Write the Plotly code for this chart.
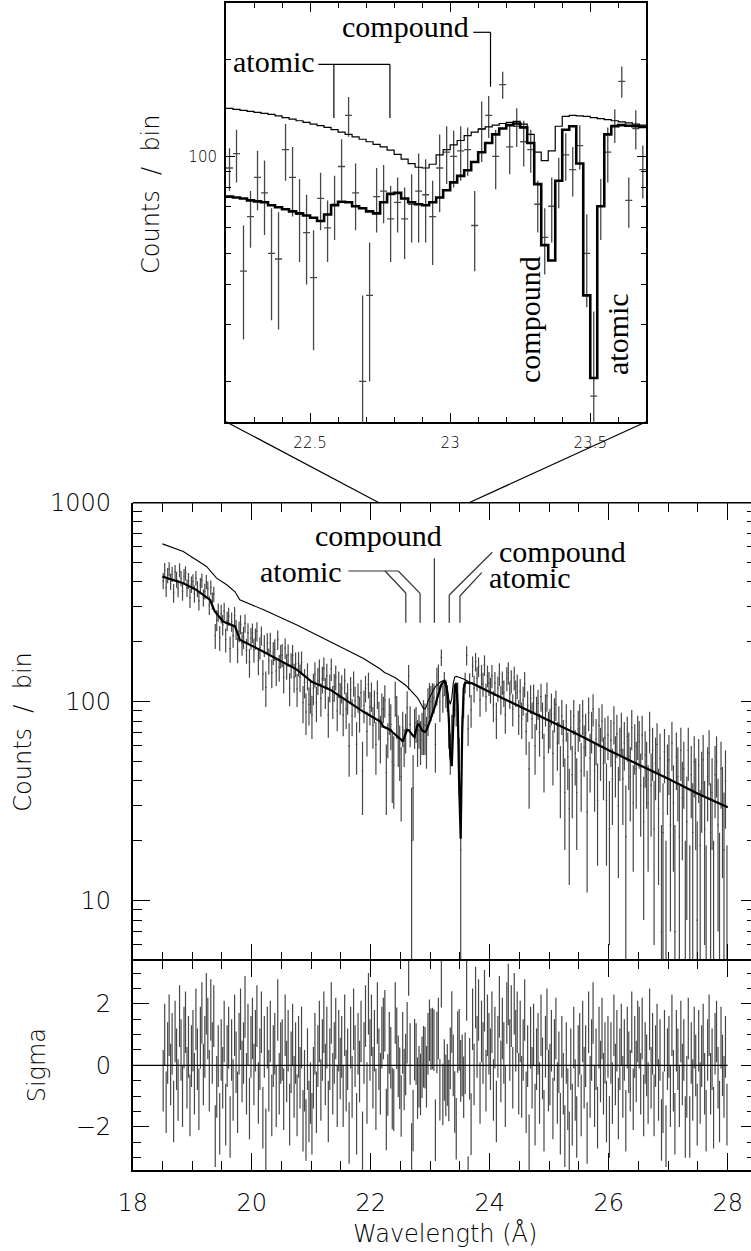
import math
import plotly.graph_objects as go

W, H = 751, 1251

# ---------------------------------------------------------------- data
BIN_START = 18.5      # first bin edge (Angstrom)
BIN_WIDTH = 0.025     # bin width (Angstrom)

# observed counts per bin, one row per 0.5 A
counts = [
    405, 460, 374, 432, 464, 402, 438, 352, 449, 412, 372, 459, 417, 359, 427, 443, 373, 406, 333, 389,
    402, 349, 419, 369, 321, 384, 407, 334, 359, 400, 369, 306, 375, 322, 347, 215, 257, 282, 210, 277,
    244, 285, 205, 255, 269, 185, 253, 215, 271, 231, 183, 226, 245, 197, 211, 248, 181, 222, 158, 209,
    222, 182, 208, 226, 161, 187, 215, 138, 192, 118, 197, 161, 198, 140, 176, 183, 143, 205, 149, 170,
    172, 133, 186, 151, 172, 117, 153, 171, 133, 155, 116, 156, 133, 158, 99, 125, 89, 135, 97, 108,
    86, 117, 138, 99, 128, 143, 104, 130, 147, 112, 135, 86, 118, 146, 101, 119, 133, 90, 123, 105,
    117, 86, 128, 92, 105, 60, 115, 85, 124, 101, 61, 106, 88, 111, 45, 96, 117, 71, 122, 94,
    107, 76, 96, 61, 110, 82, 67, 92,
    92, 102, 44, 65, 86, 77, 50, 48, 105, 86, 66, 58, 42, 74, 60, 71, 93, 134, 77, 20,
    37, 75, 78, 64, 72, 64, 71, 78, 76, 65, 92, 103, 100, 104, 105, 61, 122, 134, 100, 167,
    107, 124, 111, 105, 71, 56, 70, 84, 101, 91, 108, 50, 18, 70, 103, 125, 171, 73, 122, 91,
    151, 117, 159, 131, 150, 102, 136, 123, 153, 106, 135, 124,
    115, 135, 96, 124, 82, 117, 138, 103, 125, 111, 86, 131, 140, 109, 127, 92, 132, 111, 120, 85,
    113, 82, 102, 123, 71, 96, 46, 104, 82, 105, 60, 89, 98, 70, 106, 82, 52, 92, 107, 72,
    75, 93, 55, 87, 97, 62, 78, 43, 85, 64, 35, 80, 53, 29, 74, 43, 85, 55, 35, 73,
    80, 45, 85, 59, 70, 28, 88, 52, 72, 92, 45, 65, 32, 76, 57, 80, 49, 66, 32, 68,
    23, 64, 41, 78, 50, 69, 30, 57, 71, 41, 62, 21, 67, 53, 42, 74, 31, 60, 46, 68,
    63, 38, 68, 25, 54, 46, 31, 72, 38, 57, 23, 49, 61, 29, 52, 7, 22, 56, 3, 44,
    51, 24, 62, 31, 7, 53, 42, 21, 57, 33, 46, 3, 25, 57, 2, 43, 22, 50, 35, 8,
    48, 19, 39, 51, 23, 2, 42, 55, 22, 35, 3, 43, 50, 24, 5, 46, 30, 18, 40, 2,
]

# 1-sigma uncertainty on the counts
count_err = [
    38, 38, 38, 38, 38, 38, 38, 38, 38, 38, 37, 37, 37, 37, 37, 37, 37, 37, 37, 37,
    35, 35, 35, 34, 34, 34, 34, 33, 33, 33, 33, 33, 32, 32, 31, 31, 31, 30, 30, 30,
    29, 29, 28, 28, 28, 28, 28, 28, 28, 27, 27, 27, 27, 27, 27, 26, 26, 26, 26, 26,
    25, 25, 25, 25, 25, 24, 24, 24, 24, 24, 24, 24, 24, 23, 23, 23, 23, 23, 23, 23,
    23, 23, 22, 22, 22, 22, 22, 22, 22, 22, 22, 22, 21, 21, 21, 21, 21, 21, 21, 21,
    21, 21, 20, 20, 20, 20, 20, 20, 20, 20, 20, 20, 19, 19, 19, 19, 19, 19, 19, 19,
    19, 19, 19, 19, 19, 18, 18, 18, 18, 18, 18, 18, 18, 18, 18, 18, 18, 18, 18, 18,
    18, 18, 18, 18, 18, 18, 18, 18,
    14, 19, 17, 13, 18, 20, 19, 19, 21, 21, 19, 18, 17, 15, 13, 16, 20, 19, 18, 17,
    17, 17, 16, 17, 14, 16, 17, 24, 22, 19, 25, 21, 20, 20, 18, 17, 26, 20, 21, 16,
    19, 17, 18, 16, 13, 13, 16, 15, 17, 16, 17, 16, 15, 15, 20, 15, 19, 13, 17, 17,
    18, 18, 17, 18, 17, 18, 17, 17, 18, 17, 17, 17,
    17, 18, 17, 17, 17, 17, 18, 17, 17, 17, 17, 18, 18, 17, 17, 17, 18, 17, 17, 17,
    17, 17, 17, 18, 17, 17, 17, 17, 17, 17, 17, 17, 17, 17, 17, 17, 17, 17, 18, 17,
    17, 17, 17, 17, 17, 17, 17, 17, 17, 17, 17, 17, 17, 17, 17, 17, 17, 17, 17, 17,
    17, 17, 17, 17, 17, 17, 17, 17, 17, 17, 17, 17, 17, 17, 17, 17, 17, 17, 17, 17,
    17, 17, 17, 17, 17, 17, 17, 17, 17, 17, 17, 17, 17, 17, 17, 17, 17, 17, 17, 17,
    17, 17, 17, 17, 17, 17, 17, 17, 17, 17, 17, 17, 17, 17, 17, 17, 17, 17, 17, 17,
    17, 17, 17, 17, 17, 17, 17, 17, 17, 17, 17, 17, 17, 17, 17, 17, 17, 17, 17, 17,
    17, 17, 17, 17, 17, 17, 17, 17, 17, 17, 17, 17, 17, 17, 17, 17, 17, 17, 17, 17,
]

# residuals (data - model) / error
sigma = [
    -0.5, 1.0, -1.2, 0.4, 1.3, -0.3, 0.7, -1.5, 1.1, 0.2, -0.8, 1.6, 0.5, -1.0, 0.9, 1.4, -0.4, 0.6, -1.3, 0.3,
    0.8, -0.6, 1.5, 0.2, -1.1, 0.9, 1.7, -0.3, 0.6, 2.0, 1.2, -0.5, 1.8, 0.4, 1.6, -2.3, -0.7, 0.3, -1.9, 0.5,
    -0.4, 1.1, -1.6, 0.3, 0.9, -2.0, 0.5, -0.8, 1.3, 0.1, -1.2, 0.7, 1.5, -0.2, 0.4, 1.9, -0.6, 1.0, -1.4, 0.6,
    1.2, -0.3, 0.8, 1.6, -0.9, 0.2, 1.4, -1.7, 0.6, -2.4, 0.9, -0.5, 1.1, -1.3, 0.3, 0.7, -1.0, 1.8, -0.6, 0.4,
    0.5, -1.1, 1.3, -0.2, 0.8, -1.6, 0.1, 1.0, -0.7, 0.4, -1.3, 0.6, -0.4, 0.9, -1.8, -0.5, -2.1, 0.2, -1.5, -0.9,
    -1.9, -0.4, 0.7, -1.2, 0.3, 1.1, -0.8, 0.5, 1.4, -0.3, 0.9, -1.5, 0.2, 1.7, -0.6, 0.4, 1.2, -1.0, 0.8, -0.1,
    0.6, -1.0, 1.3, -0.5, 0.2, -2.2, 0.9, -0.7, 1.5, 0.3, -1.9, 0.7, -0.2, 1.1, -2.5, 0.4, 1.6, -0.9, 2.0, 0.5,
    1.3, -0.4, 0.8, -1.1, 1.7, 0.2, -0.6, 0.9,
    1.2, 1.45, -1.76, -0.64, 0.73, 0.25, -1.08, -1.13, 1.7, 0.88, -0.03, -0.42, -1.32, 0.73, -0.46, 0.03, 1.06, 3.26, 0.37, -2.88,
    -1.79, 0.51, 0.37, -0.74, -0.37, -0.62, -0.06, 0.28, 0.25, -0.37, 0.7, 1.14, 0.85, 0.87, 0.82, -2.11, 0.74, 1.2, -0.79, 2.88,
    -0.95, -0.15, -0.65, -0.31, -0.82, 0.23, 1.41, 0.0, -1.19, -2.06, 0.76, 0.83, -0.18, 0.0, -0.71, 0.07, 2.45, -3.96, -0.11, -1.91,
    1.5, -0.3, 2.2, 0.6, 1.8, -0.9, 1.1, 0.4, 2.1, -0.5, 1.3, 0.7,
    0.2, 1.4, -0.8, 0.9, -1.5, 0.6, 1.9, -0.2, 1.2, 0.4, -1.0, 1.7, 2.3, 0.5, 1.6, -0.4, 2.0, 0.8, 1.4, -0.6,
    1.1, -0.7, 0.5, 1.8, -1.2, 0.3, -2.6, 0.9, -0.4, 1.0, -1.6, 0.2, 0.7, -0.9, 1.3, -0.1, -1.8, 0.6, 1.5, -0.5,
    -0.3, 0.8, -1.4, 0.5, 1.2, -0.9, 0.1, -1.9, 0.6, -0.6, -2.3, 0.4, -1.1, -2.5, 0.2, -1.6, 0.9, -0.8, -2.0, 0.3,
    0.7, -1.3, 1.1, -0.4, 0.3, -2.2, 1.4, -0.7, 0.5, 1.7, -1.0, 0.2, -1.7, 0.9, -0.2, 1.2, -0.6, 0.4, -1.5, 0.6,
    -2.0, 0.4, -0.9, 1.3, -0.3, 0.8, -1.4, 0.2, 1.0, -0.7, 0.5, -1.8, 0.9, 0.1, -0.5, 1.4, -1.1, 0.6, -0.2, 1.1,
    0.9, -0.6, 1.2, -1.3, 0.4, 0.0, -0.9, 1.5, -0.4, 0.7, -1.3, 0.3, 1.0, -0.8, 0.5, -2.1, -1.2, 0.8, -2.3, 0.2,
    0.6, -1.0, 1.3, -0.5, -1.9, 0.8, 0.2, -1.0, 1.1, -0.3, 0.5, -2.0, -0.7, 1.2, -2.0, 0.4, -0.8, 0.9, 0.0, -1.6,
    0.8, -0.9, 0.3, 1.0, -0.6, -1.8, 0.5, 1.3, -0.6, 0.2, -1.7, 0.7, 1.1, -0.4, -1.5, 0.9, 0.0, -0.7, 0.6, -1.6,
]

# models: best fit (with the edge structure) and the continuum without it
fit_left_wl = [18.5, 18.85, 19.07, 19.3, 19.38, 19.52, 19.72, 19.8, 20.19, 20.76, 21.01, 21.32, 21.88, 22.16]
fit_left = [425, 394, 365, 325, 284, 253, 239, 205, 179, 145, 126, 115, 89, 79.6]
cont_left_wl = [18.5, 18.85, 19.24, 19.41, 19.58, 19.72, 19.8, 20.2, 20.76, 21.32, 21.88, 22.16]
cont_left = [621, 568, 478, 418, 387, 357, 325, 290, 243, 201, 165, 146]

# per-bin model values across the edge, 22.2 - 23.7 A
EDGE_LO, EDGE_HI = 22.2, 23.7
edge_fit = [
    75, 74.5, 74, 73, 72.5, 72, 70.5, 69.5, 68.5, 67.5, 66.5, 65.5, 64.5, 63, 66, 70.5, 72.3, 72, 70, 69,
    67.5, 66.5, 72, 76.5, 77, 74, 72, 71, 70.5, 72, 74.5, 78.5, 83, 87, 90.5, 96, 103, 110, 117, 122,
    125, 126.5, 123, 110, 82, 53, 47.5, 84, 121, 124, 95, 37, 20.5, 70, 117, 124, 125, 124.5, 124, 123.5,
]
edge_cont = [
    141, 140, 139, 138, 137, 136, 135, 133.5, 132, 130.5, 129, 127.5, 126, 124.5, 123, 121, 119, 117, 115, 113,
    111, 109, 107, 104.5, 101.5, 98, 95, 92.5, 92, 94.5, 101, 105, 108.5, 112, 116, 119, 121.5, 123.5, 125, 126.5,
    127.5, 128.5, 126, 117, 103, 97, 104, 124, 133, 134, 133.5, 133, 132, 131, 130, 129, 128, 127, 126, 125,
]

right_wl = [23.7, 24.0, 24.5, 25.0, 25.5, 26.0, 26.5, 27.0, 27.5, 28.0]
right_model = [124, 112, 95, 80, 68, 57, 48.5, 41, 34.5, 29.5]

# line identifications (Angstrom)
main_atomic = [22.59, 22.83, 23.50]
main_compound = [23.07, 23.32]
inset_atomic = [22.585, 22.785]
inset_compound = [23.144]

# ---------------------------------------------------------------- geometry
MAIN_L, PX_PER_A = 132.7, 59.5
MAIN_T, MAIN_B, RES_B = 502.7, 960.7, 1170.0
INS_L, INS_R, INS_T, INS_B = 226.0, 646.3, 2.7, 421.7
X_MAX = 18 + (W - MAIN_L) / PX_PER_A


def xp(p):
    return p / W


def yp(p):
    return 1 - p / H


n = len(counts)
centers = [BIN_START + BIN_WIDTH * (i + 0.5) for i in range(n)]
i0 = round((EDGE_LO - BIN_START) / BIN_WIDTH)
edge_centers = centers[i0:i0 + len(edge_fit)]
edge_edges = [EDGE_LO + BIN_WIDTH * k for k in range(len(edge_fit) + 1)]


def error_bars(xs, vals, errs, floor, with_caps=True):
    bx, by = [], []
    for x, v, e in zip(xs, vals, errs):
        lo = v - e
        bx += [x, x, None]
        by += [lo if lo > floor else floor, v + e, None]
        if with_caps and v > floor:
            bx += [x - BIN_WIDTH / 2, x + BIN_WIDTH / 2, None]
            by += [v, v, None]
    return bx, by


GRAY = "#474747"
fig = go.Figure()

# main spectrum
mx, my = error_bars(centers, counts, count_err, 0.5)
fig.add_trace(go.Scatter(x=mx, y=my, mode="lines", line=dict(color=GRAY, width=1.2),
                         xaxis="x", yaxis="y", hoverinfo="skip"))
fig.add_trace(go.Scatter(x=cont_left_wl + edge_centers + right_wl,
                         y=cont_left + edge_cont + right_model, mode="lines",
                         line=dict(color="black", width=1.1), xaxis="x", yaxis="y"))
fig.add_trace(go.Scatter(x=fit_left_wl + edge_centers + right_wl,
                         y=fit_left + edge_fit + right_model, mode="lines",
                         line=dict(color="black", width=2.2), xaxis="x", yaxis="y"))

# residuals
rx, ry = [], []
for x, r in zip(centers, sigma):
    rx += [x, x, None]
    ry += [r - 1, r + 1, None]
fig.add_trace(go.Scatter(x=rx, y=ry, mode="lines", line=dict(color=GRAY, width=1.2),
                         xaxis="x2", yaxis="y2", hoverinfo="skip"))
fig.add_trace(go.Scatter(x=[18, BIN_START + n * BIN_WIDTH], y=[0, 0], mode="lines",
                         line=dict(color="black", width=1.3), xaxis="x2", yaxis="y2"))

# inset around the edge
ix, iy = error_bars(edge_centers, counts[i0:i0 + len(edge_fit)],
                    count_err[i0:i0 + len(edge_fit)], 0.5)
fig.add_trace(go.Scatter(x=ix, y=iy, mode="lines", line=dict(color=GRAY, width=1.3),
                         xaxis="x3", yaxis="y3", hoverinfo="skip"))
fig.add_trace(go.Scatter(x=edge_edges, y=edge_cont + edge_cont[-1:], mode="lines",
                         line=dict(color="black", width=1.2, shape="hv"), xaxis="x3", yaxis="y3"))
fig.add_trace(go.Scatter(x=edge_edges, y=edge_fit + edge_fit[-1:], mode="lines",
                         line=dict(color="black", width=2.6, shape="hv"), xaxis="x3", yaxis="y3"))

# empty traces so the right-hand tick axes are drawn
fig.add_trace(go.Scatter(x=[None], y=[None], xaxis="x", yaxis="y4", hoverinfo="skip"))
fig.add_trace(go.Scatter(x=[None], y=[None], xaxis="x2", yaxis="y5", hoverinfo="skip"))

TICKFONT = dict(family="DejaVu Sans", size=24, color="black", weight=300)
SMALLFONT = dict(family="DejaVu Sans", size=15, color="black", weight=300)
SERIF = dict(family="Liberation Serif", size=30, color="black")

x_major = [18, 20, 22, 24, 26, 28]
x_minor = [18 + 0.5 * k for k in range(21) if k % 4]
log_minor_main = [6, 7, 8, 9] + [10 * k for k in range(2, 10)] + [100 * k for k in range(2, 10)]
res_minor = [-3, -2.5, -1.5, -1, -0.5, 0.5, 1, 1.5, 2.5, 3]

common_x = dict(range=[18, X_MAX], domain=[xp(MAIN_L), 1.0], showgrid=False, zeroline=False,
                linecolor="black", linewidth=1.5, mirror="ticks",
                ticks="inside", ticklen=17, tickwidth=1.3, tickcolor="black",
                tickmode="array", tickvals=x_major,
                minor=dict(tickmode="array", tickvals=x_minor, ticks="inside", ticklen=9,
                           tickwidth=1.3, tickcolor="black", showgrid=False))

fig.update_layout(
    width=W, height=H, margin=dict(l=0, r=0, t=0, b=0, autoexpand=False),
    paper_bgcolor="white", plot_bgcolor="rgba(0,0,0,0)", showlegend=False,
    # main panel: ticks on both sides, its frame lines come from the shapes / residual axis
    xaxis=dict(common_x, anchor="y", showline=False, showticklabels=False),
    yaxis=dict(type="log", range=[math.log10(5), 3], domain=[yp(MAIN_B), yp(MAIN_T)],
               anchor="x", showgrid=False, zeroline=False, showline=True, linecolor="black",
               linewidth=1.5, ticks="inside", ticklen=18, tickwidth=1.3, tickcolor="black",
               tickmode="array", tickvals=[10, 100, 1000], ticktext=["10", "100", "1000"],
               tickfont=TICKFONT, ticklabelstandoff=15,
               minor=dict(tickmode="array", tickvals=log_minor_main, ticks="inside", ticklen=10,
                          tickwidth=1.3, tickcolor="black", showgrid=False)),
    yaxis4=dict(type="log", range=[math.log10(5), 3], overlaying="y", side="right", anchor="x",
                showgrid=False, zeroline=False, showline=False, showticklabels=False,
                ticks="inside", ticklen=10, tickwidth=1.3, tickcolor="black",
                tickmode="array", tickvals=[10, 100, 1000],
                minor=dict(tickmode="array", tickvals=log_minor_main, ticks="inside", ticklen=4,
                           tickwidth=1.3, tickcolor="black", showgrid=False)),
    xaxis2=dict(common_x, anchor="y2", showline=True, showticklabels=True, tickfont=TICKFONT,
                ticktext=[str(v) for v in x_major], ticklabelstandoff=10),
    yaxis2=dict(range=[-3.4, 3.4], domain=[yp(RES_B), yp(MAIN_B)], anchor="x2",
                showgrid=False, zeroline=False, showline=True, linecolor="black", linewidth=1.5,
                ticks="inside", ticklen=17, tickwidth=1.3, tickcolor="black",
                tickmode="array", tickvals=[-2, 0, 2], ticktext=["\u22122", "0", "2"],
                tickfont=TICKFONT, ticklabelstandoff=15,
                minor=dict(tickmode="array", tickvals=res_minor, ticks="inside", ticklen=9,
                           tickwidth=1.3, tickcolor="black", showgrid=False)),
    yaxis5=dict(range=[-3.4, 3.4], overlaying="y2", side="right", anchor="x2",
                showgrid=False, zeroline=False, showline=False, showticklabels=False,
                ticks="inside", ticklen=10, tickwidth=1.3, tickcolor="black",
                tickmode="array", tickvals=[-2, 0, 2],
                minor=dict(tickmode="array", tickvals=res_minor, ticks="inside", ticklen=4,
                           tickwidth=1.3, tickcolor="black", showgrid=False)),
    xaxis3=dict(range=[EDGE_LO, EDGE_HI], domain=[xp(INS_L), xp(INS_R)], anchor="y3",
                showgrid=False, zeroline=False, showline=True, linecolor="black", linewidth=2,
                mirror="ticks", ticks="inside", ticklen=9, tickwidth=1.2, tickcolor="black",
                tickmode="array", tickvals=[22.5, 23, 23.5], ticktext=["22.5", "23", "23.5"],
                tickfont=SMALLFONT, ticklabelstandoff=6,
                minor=dict(tickmode="array",
                           tickvals=[22.3, 22.4, 22.6, 22.7, 22.8, 22.9, 23.1, 23.2, 23.3, 23.4, 23.6],
                           ticks="inside", ticklen=5, tickwidth=1.2, tickcolor="black",
                           showgrid=False)),
    yaxis3=dict(type="log", range=[math.log10(15), math.log10(300)],
                domain=[yp(INS_B), yp(INS_T)], anchor="x3",
                showgrid=False, zeroline=False, showline=True, linecolor="black", linewidth=2,
                mirror="ticks", ticks="inside", ticklen=9, tickwidth=1.2, tickcolor="black",
                tickmode="array", tickvals=[100], ticktext=["100"],
                tickfont=SMALLFONT, ticklabelstandoff=4,
                minor=dict(tickmode="array", tickvals=[20, 30, 40, 50, 60, 70, 80, 90, 200, 300],
                           ticks="inside", ticklen=5, tickwidth=1.2, tickcolor="black",
                           showgrid=False)),
)

ann = []
# axis titles
ann.append(dict(text="Counts  /  bin", x=xp(23), y=yp((MAIN_T + MAIN_B) / 2), textangle=-90,
                font=TICKFONT))
ann.append(dict(text="Sigma", x=xp(37), y=yp((MAIN_B + RES_B) / 2), textangle=-90, font=TICKFONT))
ann.append(dict(text="Wavelength (\u00c5)", x=xp(445), y=yp(1233), font=TICKFONT))
ann.append(dict(text="Counts  /  bin", x=xp(151), y=yp(194), textangle=-90, font=TICKFONT))
# line labels, main panel
ann.append(dict(text="compound", x=xp(378), y=yp(535), font=SERIF))
ann.append(dict(text="atomic", x=xp(301), y=yp(571.7), font=SERIF))
ann.append(dict(text="compound", x=xp(562.5), y=yp(551), font=SERIF))
ann.append(dict(text="atomic", x=xp(530), y=yp(578), font=SERIF))
# line labels, inset
ann.append(dict(text="compound", x=xp(405.8), y=yp(26.7), font=SERIF))
ann.append(dict(text="atomic", x=xp(274), y=yp(61.7), font=SERIF))
ann.append(dict(text="compound", x=xp(529), y=yp(320), textangle=-90, font=SERIF))
ann.append(dict(text="atomic", x=xp(618), y=yp(334), textangle=-90, font=SERIF))
for a in ann:
    a.update(xref="paper", yref="paper", showarrow=False, xanchor="center", yanchor="middle")
fig.update_layout(annotations=ann)

shapes = []


def seg(x0, y0, x1, y1, xref="paper", w=1.2, color="black"):
    shapes.append(dict(type="line", xref=xref, yref="paper", x0=x0, y0=yp(y0), x1=x1, y1=yp(y1),
                       line=dict(color=color, width=w)))


def wl_main(p):
    return 18 + (p - MAIN_L) / PX_PER_A


# top frame line of the main panel
seg(xp(MAIN_L), MAIN_T, 1.0, MAIN_T, w=1.5)

LEAD = "#333333"
# main panel leaders: two atomic lines fed from the left label
seg(wl_main(348.3), 571, wl_main(398.3), 571, "x", color=LEAD)
seg(wl_main(385), 571, main_atomic[0], 593, "x", color=LEAD)
seg(wl_main(398.3), 571, main_atomic[1], 593.3, "x", color=LEAD)
seg(main_atomic[0], 593, main_atomic[0], 622.7, "x", color=LEAD)
seg(main_atomic[1], 593.3, main_atomic[1], 622.7, "x", color=LEAD)
# compound line below the upper label
seg(main_compound[0], 558.3, main_compound[0], 622.7, "x", color=LEAD)
# right-hand labels
seg(wl_main(492.3), 552.3, main_compound[1], 595, "x", color=LEAD)
seg(main_compound[1], 595, main_compound[1], 622.7, "x", color=LEAD)
seg(wl_main(481.7), 572.7, main_atomic[2], 596, "x", color=LEAD)
seg(main_atomic[2], 596, main_atomic[2], 622.7, "x", color=LEAD)


def wl_inset(p):
    return EDGE_LO + (p - INS_L) / (INS_R - INS_L) * (EDGE_HI - EDGE_LO)


# inset leaders
seg(wl_inset(318.3), 64.3, inset_atomic[1], 64.3, "x3")
for w_ in inset_atomic:
    seg(w_, 64.3, w_, 118, "x3")
seg(wl_inset(473.3), 32.3, inset_compound[0], 32.3, "x3")
seg(inset_compound[0], 32.3, inset_compound[0], 86.7, "x3")

# zoom connectors from the inset corners down to the main panel
seg(xp(INS_L), INS_B, xp(379), MAIN_T)
seg(xp(INS_R), INS_B, xp(469), MAIN_T)

fig.update_layout(shapes=shapes)
fig.write_html("out.html")
